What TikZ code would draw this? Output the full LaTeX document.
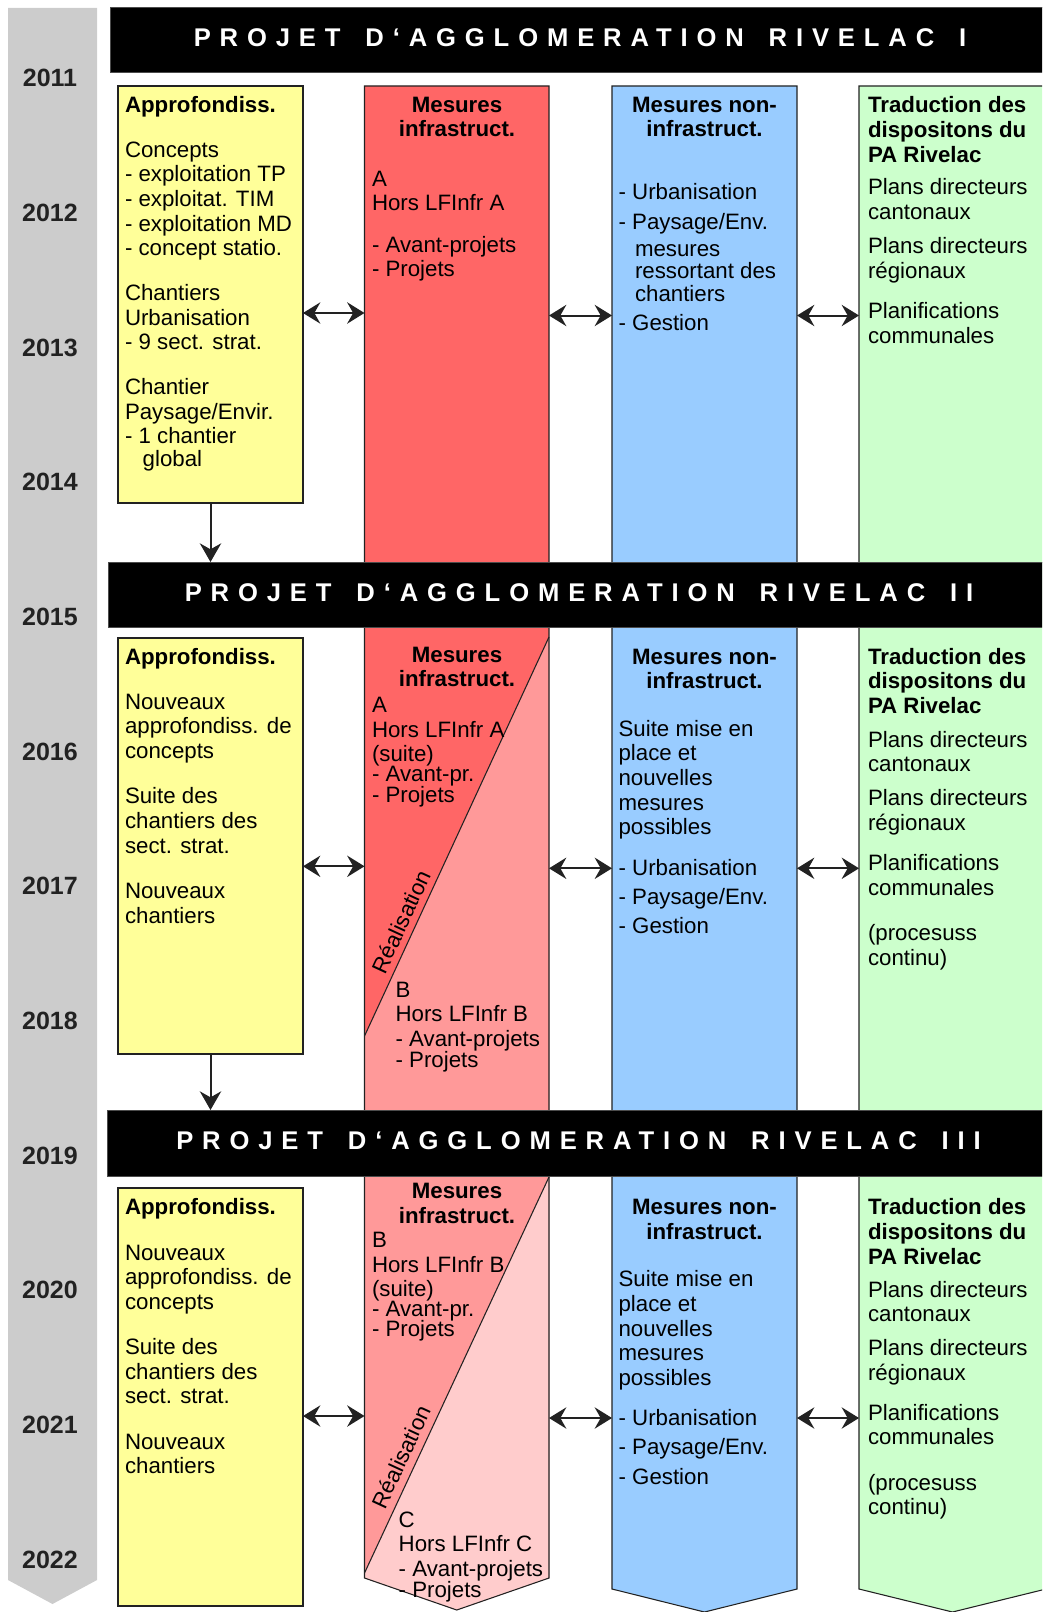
\documentclass[tikz,border=0pt]{standalone}
\usepackage{fontspec}
\setmainfont{Liberation Sans}
\newfontfamily\bannerfont[LetterSpace=34.7]{Liberation Sans}
\usetikzlibrary{arrows.meta}
\definecolor{cgray}{HTML}{CCCCCC}
\definecolor{cyel}{HTML}{FFFF99}
\definecolor{cred}{HTML}{FF6666}
\definecolor{credb}{HTML}{FF9999}
\definecolor{credc}{HTML}{FFCCCC}
\definecolor{cblue}{HTML}{99CCFF}
\definecolor{cgreen}{HTML}{CCFFCC}
\definecolor{cline}{HTML}{222222}
\newcommand\txtl[2][18.5pt]{\vtop{\baselineskip=#1\lineskiplimit=-50pt\lineskip=0pt\let\\\cr\halign{##\hfil\cr#2\crcr}}}
\newcommand\txtc[2][18.5pt]{\vtop{\baselineskip=#1\lineskiplimit=-50pt\lineskip=0pt\let\\\cr\halign{\hfil##\hfil\cr#2\crcr}}}
\newcommand\vgap[1]{\noalign{\vskip#1}}
\tikzset{
  tx/.style={inner sep=0pt, outer sep=0pt, anchor=base west, font=\fontsize{16.7pt}{18.5pt}\selectfont},
  txc/.style={tx, anchor=base},
  year/.style={inner sep=0pt, anchor=base, text=cline, font=\bfseries\fontsize{18.75pt}{20pt}\selectfont},
  banner/.style={fill=black, draw=black!70, line width=0.5pt, text=white, inner sep=0pt, outer sep=0pt, minimum height=48.75pt, text depth=3pt,
     font=\bannerfont\bfseries\fontsize{19.2pt}{22pt}\selectfont},
  ybox/.style={fill=cyel, draw=cline, line width=0.8pt, inner sep=0pt, outer sep=0pt, minimum width=138.75pt},
  colline/.style={draw=cline, line width=0.8pt},
  dblarr/.style={line width=1.5pt, draw=cline, {Stealth[length=13pt,width=16pt,inset=4.5pt]}-{Stealth[length=13pt,width=16pt,inset=4.5pt]}},
  downarr/.style={line width=1.5pt, draw=cline, -{Stealth[length=14pt,width=16pt,inset=4.5pt]}},
  realis/.style={inner sep=0pt, rotate=65.2, font=\fontsize{16.7pt}{18.5pt}\selectfont}
}
\newcommand\bannertext[1]{PROJET\hspace{18.6pt}D‘AGGLOMERATION\hspace{18.6pt}RIVELAC\hspace{18.6pt}#1}
\begin{document}
\begin{tikzpicture}[x=0.75pt,y=-0.75pt]
\useasboundingbox (0,0) rectangle (1042,1612);
\clip (0,0) rectangle (1042,1612);
% timeline bar
\fill[cgray] (8,8) -- (97,8) -- (97,1580) -- (52.5,1604) -- (8,1580) -- cycle;
\foreach \i in {0,...,11}{
  \pgfmathtruncatemacro\yr{2011+\i}
  \pgfmathsetmacro\yy{87+134.65*\i}
  \node[year] (yr\i) at (50,\yy) {\yr};
}
% red column
\fill[cred] (364.5,86) -- (549,86) -- (549,1578) -- (456.75,1610) -- (364.5,1578) -- cycle;
\fill[credb] (549,637) -- (364.5,1036) -- (364.5,1578) -- (456.75,1610) -- (549,1578) -- cycle;
\fill[credc] (549,1177) -- (364.5,1573) -- (364.5,1578) -- (456.75,1610) -- (549,1578) -- cycle;
\draw[colline] (364.5,86) -- (549,86) -- (549,1578) -- (456.75,1610) -- (364.5,1578) -- cycle;
\draw[colline] (549,637) -- (364.5,1036);
\draw[colline] (549,1177) -- (364.5,1573);
% blue column
\filldraw[colline, fill=cblue] (612,86) -- (797,86) -- (797,1589) -- (704.5,1612) -- (612,1589) -- cycle;
% green column
\filldraw[colline, fill=cgreen] (859,86) -- (1046,86) -- (1046,1589) -- (952.5,1612) -- (859,1589) -- cycle;
% banners
\node[banner, minimum width=705pt] (ban1) at (580,39.5) {\bannertext{I}};
\node[banner, minimum width=706.5pt] (ban2) at (579,594.5) {\bannertext{II}};
\node[banner, minimum width=707.25pt, minimum height=49.5pt] (ban3) at (578.5,1143) {\bannertext{III}};
% yellow boxes
\node[ybox, minimum height=312.75pt] (y1) at (210.5,294.5) {};
\node[ybox, minimum height=312pt] (y2) at (210.5,846) {};
\node[ybox, minimum height=313.5pt] (y3) at (210.5,1397) {};
% arrow end points on the columns
\coordinate (r1a) at (364.5,313);   \coordinate (r1b) at (549,315.5);
\coordinate (b1a) at (612,315.5);   \coordinate (b1b) at (797,315.5);
\coordinate (g1a) at (859,315.5);
\coordinate (r2a) at (364.5,866.3); \coordinate (r2b) at (549,868.3);
\coordinate (b2a) at (612,868.3);   \coordinate (b2b) at (797,868.3);
\coordinate (g2a) at (859,868.3);
\coordinate (r3a) at (364.5,1416);  \coordinate (r3b) at (549,1418);
\coordinate (b3a) at (612,1418);    \coordinate (b3b) at (797,1418);
\coordinate (g3a) at (859,1418);
\draw[dblarr] (y1.east |- r1a) -- (r1a);
\draw[dblarr] (r1b) -- (b1a);
\draw[dblarr] (b1b) -- (g1a);
\draw[dblarr] (y2.east |- r2a) -- (r2a);
\draw[dblarr] (r2b) -- (b2a);
\draw[dblarr] (b2b) -- (g2a);
\draw[dblarr] (y3.east |- r3a) -- (r3a);
\draw[dblarr] (r3b) -- (b3a);
\draw[dblarr] (b3b) -- (g3a);
\draw[downarr] (y1.south) -- (y1.south |- ban2.north);
\draw[downarr] (y2.south) -- (y2.south |- ban3.north);
% ---------- section 1 texts
\node[tx] (t1y) at (125,112.5) {\txtl{\textbf{Approfondiss.}\\\vgap{15pt}Concepts\\- exploitation TP\\- exploitat. TIM\\- exploitation MD\\- concept statio.\\\vgap{15pt}Chantiers\\Urbanisation\\- 9 sect. strat.\\\vgap{15pt}Chantier\\Paysage/Envir.\\- 1 chantier\\\vgap{-1.5pt}\hspace{13.3pt}global}};
\node[txc] (t1rt) at (457,112.3) {\txtc{\textbf{Mesures}\\\textbf{infrastruct.}}};
\node[tx] (t1r) at (372,186.3) {\txtl{A\\Hors LFInfr A\\\vgap{12.3pt}- Avant-projets\\- Projets}};
\node[txc] (t1bt) at (704.5,112.3) {\txtc{\textbf{Mesures non-}\\\textbf{infrastruct.}}};
\node[tx] (t1b1) at (618.6,199.7) {\txtl[22.35pt]{- Urbanisation\\- Paysage/Env.}};
\node[tx] (t1b2) at (635,256.2) {\txtl[16.95pt]{mesures\\ressortant des\\chantiers}};
\node[tx] (t1b3) at (618.6,330.2) {- Gestion};
\node[tx] (t1g) at (868,113) {\txtl{\textbf{Traduction des}\\\textbf{dispositons du}\\\textbf{PA Rivelac}\\\vgap{6pt}Plans directeurs\\cantonaux\\\vgap{7pt}Plans directeurs\\régionaux\\\vgap{11.8pt}Planifications\\communales}};
% ---------- section 2 texts
\node[tx] (t2y) at (125,664.1) {\txtl{\textbf{Approfondiss.}\\\vgap{15.4pt}Nouveaux\\approfondiss. de\\concepts\\\vgap{15.4pt}Suite des\\chantiers des\\sect. strat.\\\vgap{15.4pt}Nouveaux\\chantiers}};
\node[txc] (t2rt) at (457,662.1) {\txtc{\textbf{Mesures}\\\textbf{infrastruct.}}};
\node[tx] (t2r1) at (372,712.5) {\txtl{A\\Hors LFInfr A\\(suite)\\\vgap{-3.5pt}- Avant-pr.\\\vgap{-3pt}- Projets}};
\node[tx] (t2r2) at (395.6,997.1) {\txtl{B\\Hors LFInfr B\\- Avant-projets\\\vgap{-3pt}- Projets}};
\node[realis] (t2re) at (401,921.7) {Réalisation};
\node[txc] (t2bt) at (704.5,664.1) {\txtc{\textbf{Mesures non-}\\\textbf{infrastruct.}}};
\node[tx] (t2b1) at (618.6,736.1) {\txtl{Suite mise en\\place et\\nouvelles\\mesures\\possibles}};
\node[tx] (t2b2) at (618.6,875.8) {\txtl[21.6pt]{- Urbanisation\\- Paysage/Env.\\- Gestion}};
\node[tx] (t2g) at (868,664.1) {\txtl{\textbf{Traduction des}\\\textbf{dispositons du}\\\textbf{PA Rivelac}\\\vgap{6.9pt}Plans directeurs\\cantonaux\\\vgap{6.9pt}Plans directeurs\\régionaux\\\vgap{11.5pt}Planifications\\communales\\\vgap{15.4pt}(procesuss\\continu)}};
% ---------- section 3 texts
\node[tx] (t3y) at (125,1214.9) {\txtl{\textbf{Approfondiss.}\\\vgap{15.4pt}Nouveaux\\approfondiss. de\\concepts\\\vgap{15.4pt}Suite des\\chantiers des\\sect. strat.\\\vgap{15.4pt}Nouveaux\\chantiers}};
\node[txc] (t3rt) at (457,1198.5) {\txtc{\textbf{Mesures}\\\textbf{infrastruct.}}};
\node[tx] (t3r1) at (372,1247.8) {\txtl{B\\Hors LFInfr B\\\vgap{-0.8pt}(suite)\\\vgap{-3pt}- Avant-pr.\\\vgap{-3.9pt}- Projets}};
\node[tx] (t3r2) at (398.7,1527.3) {\txtl{C\\Hors LFInfr C\\- Avant-projets\\\vgap{-3pt}- Projets}};
\node[realis] (t3re) at (401,1457) {Réalisation};
\node[txc] (t3bt) at (704.5,1214.9) {\txtc{\textbf{Mesures non-}\\\textbf{infrastruct.}}};
\node[tx] (t3b1) at (618.6,1286.9) {\txtl{Suite mise en\\place et\\nouvelles\\mesures\\possibles}};
\node[tx] (t3b2) at (618.6,1425.5) {\txtl[22pt]{- Urbanisation\\- Paysage/Env.\\- Gestion}};
\node[tx] (t3g) at (868,1214.9) {\txtl{\textbf{Traduction des}\\\textbf{dispositons du}\\\textbf{PA Rivelac}\\\vgap{6.1pt}Plans directeurs\\cantonaux\\\vgap{6.9pt}Plans directeurs\\régionaux\\\vgap{11.5pt}Planifications\\communales\\\vgap{15.4pt}(procesuss\\continu)}};
\end{tikzpicture}
\end{document}
